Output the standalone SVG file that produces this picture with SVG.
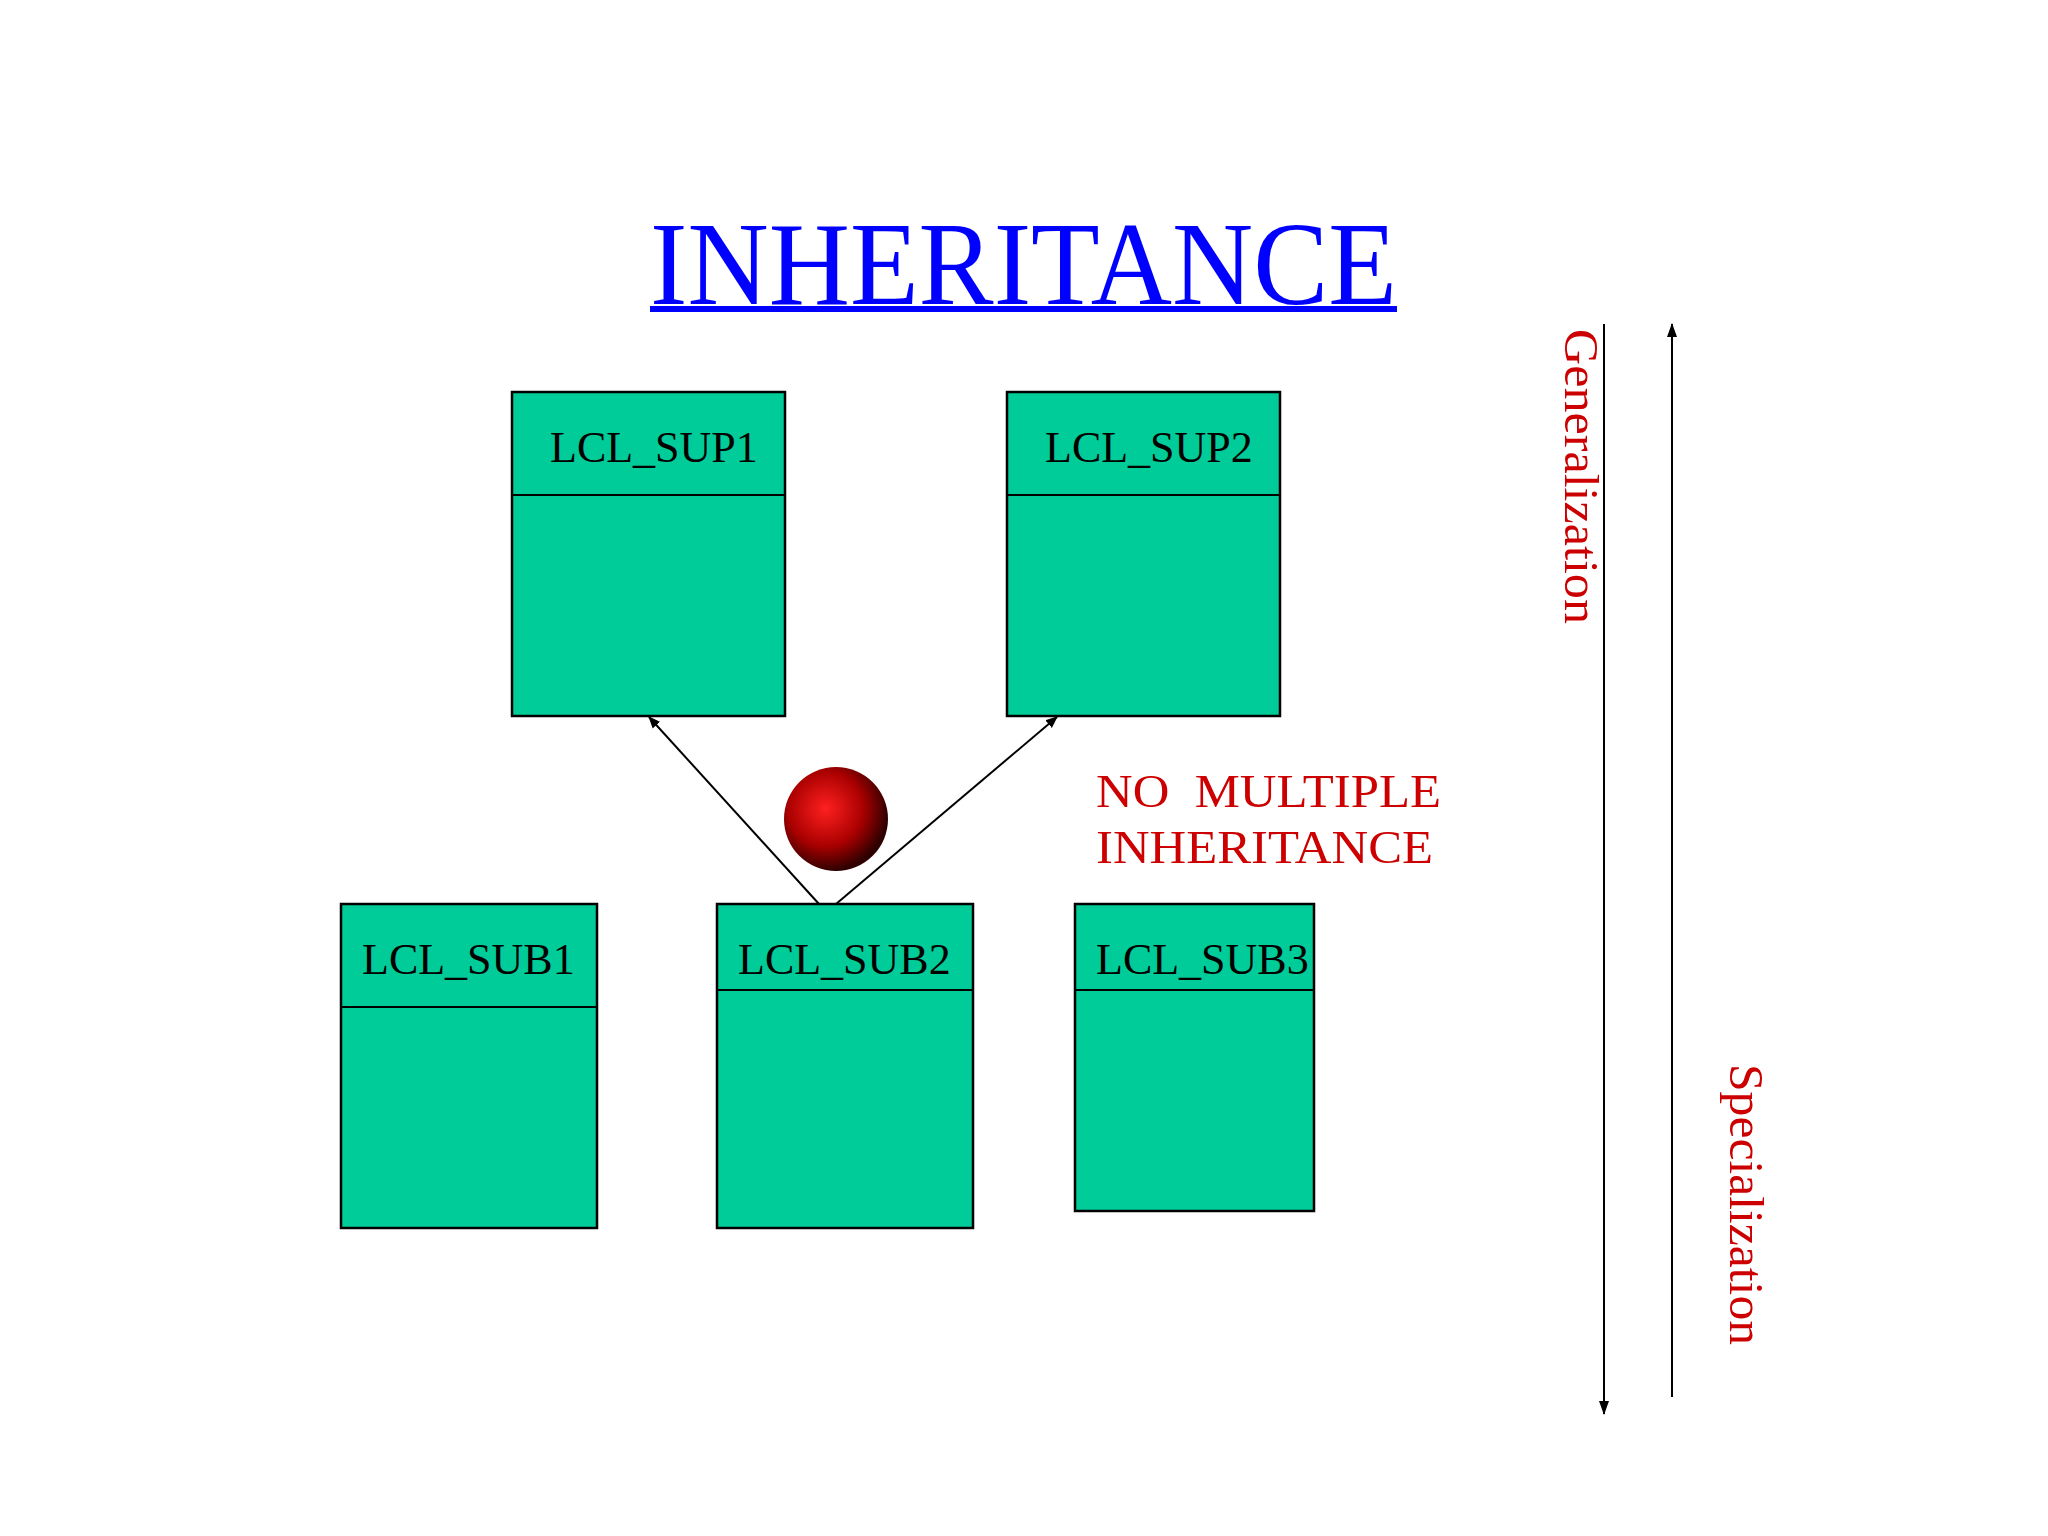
<svg xmlns="http://www.w3.org/2000/svg" width="2048" height="1536" viewBox="0 0 2048 1536">
<style>
.box{fill:#00CC99;stroke:#000;stroke-width:2.5}
.lbl{font-family:"Liberation Serif",serif;font-size:44px;fill:#000}
.red{font-family:"Liberation Serif",serif;fill:#CC0000}
.ln{stroke:#000;stroke-width:2;fill:none}
</style>
<defs>
<marker id="ah" markerWidth="12" markerHeight="12" refX="11" refY="6" orient="auto" markerUnits="userSpaceOnUse" viewBox="0 0 12 12"><path d="M0,1 L12,6 L0,11 Z" fill="#000"/></marker>
<marker id="ah2" markerWidth="14" markerHeight="14" refX="13" refY="7" orient="auto" markerUnits="userSpaceOnUse" viewBox="0 0 14 14"><path d="M0,2 L14,7 L0,12 Z" fill="#000"/></marker>
<radialGradient id="ball" cx="0.4" cy="0.4" r="0.6"><stop offset="0" stop-color="#ff2020"/><stop offset="0.6" stop-color="#aa0000"/><stop offset="1" stop-color="#300000"/></radialGradient>
</defs>
<rect width="2048" height="1536" fill="#fff"/>
<text id="title" x="650" y="304" font-family="Liberation Serif,serif" font-size="118" fill="#0000FF" textLength="747" lengthAdjust="spacingAndGlyphs">INHERITANCE</text>
<rect x="650" y="306" width="747" height="6" fill="#0000FF"/>
<g id="sup1"><rect class="box" x="512" y="392" width="273" height="324"/><line class="ln" x1="512" y1="495" x2="785" y2="495"/><text class="lbl" x="550" y="462">LCL_SUP1</text></g>
<g id="sup2"><rect class="box" x="1007" y="392" width="273" height="324"/><line class="ln" x1="1007" y1="495" x2="1280" y2="495"/><text class="lbl" x="1045" y="462">LCL_SUP2</text></g>
<g id="sub1"><rect class="box" x="341" y="904" width="256" height="324"/><line class="ln" x1="341" y1="1007" x2="597" y2="1007"/><text class="lbl" x="362" y="974">LCL_SUB1</text></g>
<g id="sub2"><rect class="box" x="717" y="904" width="256" height="324"/><line class="ln" x1="717" y1="990" x2="973" y2="990"/><text class="lbl" x="738" y="974">LCL_SUB2</text></g>
<g id="sub3"><rect class="box" x="1075" y="904" width="239" height="307"/><line class="ln" x1="1075" y1="990" x2="1314" y2="990"/><text class="lbl" x="1096" y="974">LCL_SUB3</text></g>
<g id="connectors">
<line class="ln" x1="819" y1="904" x2="649" y2="717" marker-end="url(#ah)"/>
<line class="ln" x1="836" y1="904" x2="1057" y2="717" marker-end="url(#ah)"/>
<line class="ln" x1="1604" y1="324" x2="1604" y2="1414" marker-end="url(#ah2)"/>
<line class="ln" x1="1672" y1="1397" x2="1672" y2="324" marker-end="url(#ah2)"/>
</g>
<circle id="ball-icon" cx="836" cy="819" r="52" fill="url(#ball)"/>
<g id="note"><text class="red" x="1096" y="807" font-size="47" xml:space="preserve" textLength="345" lengthAdjust="spacingAndGlyphs">NO  MULTIPLE</text><text class="red" x="1096" y="863" font-size="47" textLength="337" lengthAdjust="spacingAndGlyphs">INHERITANCE</text></g>
<text class="red" font-size="49" transform="translate(1565,329) rotate(90)" textLength="295" lengthAdjust="spacingAndGlyphs">Generalization</text>
<text class="red" font-size="49" transform="translate(1730,1064) rotate(90)" textLength="281" lengthAdjust="spacingAndGlyphs">Specialization</text>
</svg>
